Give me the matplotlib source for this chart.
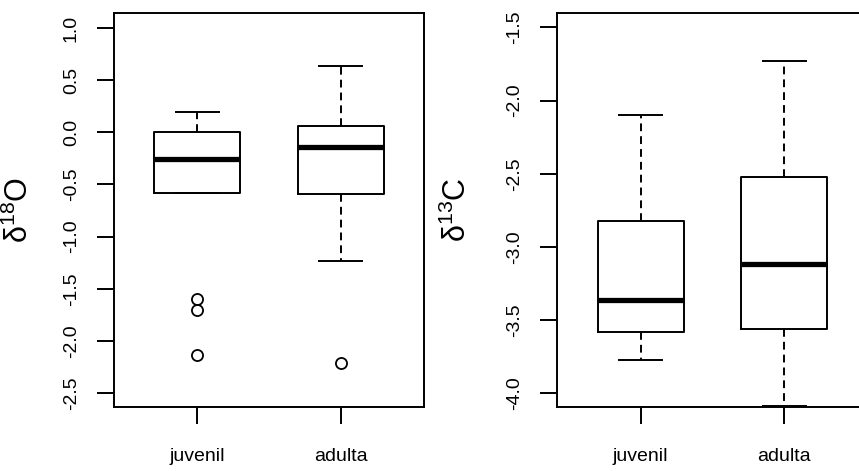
import matplotlib
matplotlib.use("Agg")
import matplotlib.pyplot as plt

plt.rcParams['font.family'] = ['Liberation Sans', 'DejaVu Sans']
plt.rcParams['mathtext.fontset'] = 'custom'
plt.rcParams['mathtext.rm'] = 'Liberation Sans'
plt.rcParams['mathtext.it'] = 'Liberation Sans:italic'

groups = ["juvenil", "adulta"]

# delta 18 O
o_whishi = [0.19, 0.64]
o_q3 = [0.00, 0.06]
o_med = [-0.26, -0.14]
o_q1 = [-0.58, -0.59]
o_whislo = [-0.58, -1.23]
o_fliers = [[-1.60, -1.70, -2.14], [-2.21]]

# delta 13 C
c_whishi = [-2.10, -1.73]
c_q3 = [-2.82, -2.52]
c_med = [-3.36, -3.12]
c_q1 = [-3.58, -3.56]
c_whislo = [-3.77, -4.09]
c_fliers = [[], []]


def make_stats(whishi, q3, med, q1, whislo, fliers):
    stats = []
    for i in range(len(groups)):
        stats.append(dict(med=med[i], q1=q1[i], q3=q3[i], whislo=whislo[i],
                          whishi=whishi[i], fliers=fliers[i], label=groups[i]))
    return stats


def draw_box(ax, stats, ylim, yticks, ylabel, label_x):
    lw = 1.4
    ax.bxp(stats, positions=[1, 2], widths=0.6, showfliers=True,
           boxprops=dict(color='black', linewidth=lw),
           medianprops=dict(color='black', linewidth=3.8, solid_capstyle='butt'),
           whiskerprops=dict(color='black', linewidth=lw, linestyle=(0, (4, 2.6))),
           capprops=dict(color='black', linewidth=lw),
           capwidths=0.3,
           flierprops=dict(marker='o', markerfacecolor='none', markeredgecolor='black',
                           markersize=8, markeredgewidth=1.3, linestyle='none'))
    ax.set_xlim(0.42, 2.58)
    ax.set_ylim(*ylim)
    ax.set_yticks(yticks)
    ax.set_yticklabels(["%.1f" % t for t in yticks], rotation=90, va='center', ha='right')
    ax.set_xticks([1, 2])
    ax.set_xticklabels(groups)
    ax.tick_params(axis='both', length=12.5, width=1.4, labelsize=14, color='black')
    ax.tick_params(axis='y', pad=12)
    ax.tick_params(axis='x', pad=17)
    for s in ax.spines.values():
        s.set_linewidth(1.4)
    ax.set_ylabel(ylabel, fontsize=22)
    ax.yaxis.set_label_coords(label_x, 0.5)


fig = plt.figure(figsize=(8.59, 4.71), dpi=100)
ax1 = fig.add_axes([0.1327, 0.1359, 0.3609, 0.8365])
ax2 = fig.add_axes([0.6488, 0.1359, 0.3609, 0.8365])

draw_box(ax1, make_stats(o_whishi, o_q3, o_med, o_q1, o_whislo, o_fliers),
         (-2.634, 1.144), [-2.5, -2.0, -1.5, -1.0, -0.5, 0.0, 0.5, 1.0],
         r'δ$^{18}$O', -0.255)
draw_box(ax2, make_stats(c_whishi, c_q3, c_med, c_q1, c_whislo, c_fliers),
         (-4.094, -1.402), [-4.0, -3.5, -3.0, -2.5, -2.0, -1.5],
         r'δ$^{13}$C', -0.272)
# the right panel runs past the edge of the picture
ax2.spines['right'].set_visible(False)

fig.savefig("out.png", dpi=100)
